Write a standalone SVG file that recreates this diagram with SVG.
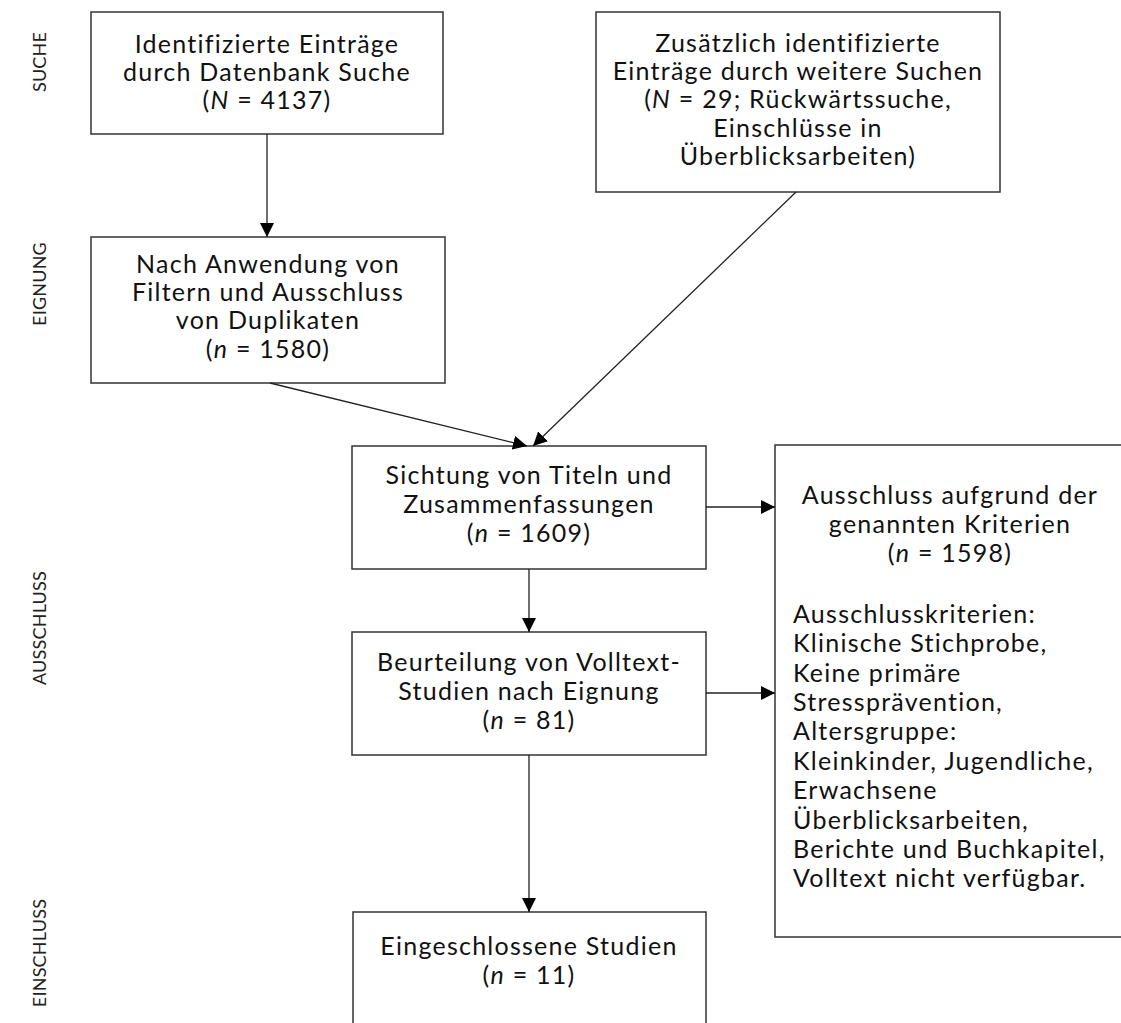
<svg xmlns="http://www.w3.org/2000/svg" width="1121" height="1023" viewBox="0 0 1121 1023">
<defs>
<style>
.box{fill:#fff;stroke:#333;stroke-width:1.5}
.t{font-family:Lato,"Open Sans",sans-serif;font-size:25px;letter-spacing:1.25px;fill:#111;text-anchor:middle}
.l{font-family:Lato,"Open Sans",sans-serif;font-size:25px;letter-spacing:1.25px;fill:#111;text-anchor:start}
.side{font-family:Lato,"Open Sans",sans-serif;font-size:18px;letter-spacing:0.2px;fill:#222;text-anchor:middle}
.c{stroke:#222;stroke-width:1.3;fill:none;marker-end:url(#ah)}
</style>
<marker id="ah" viewBox="0 0 14 14" refX="14" refY="7" markerWidth="14" markerHeight="14" markerUnits="userSpaceOnUse" orient="auto">
<path d="M0,0 L14,7 L0,14 z" fill="#000"/>
</marker>
</defs>
<rect width="1121" height="1023" fill="#fff"/>
<g id="phases">
<text class="side" transform="translate(46,62) rotate(-90)">SUCHE</text>
<text class="side" transform="translate(46,284) rotate(-90)">EIGNUNG</text>
<text class="side" transform="translate(46,628) rotate(-90)">AUSSCHLUSS</text>
<text class="side" transform="translate(46,953) rotate(-90)">EINSCHLUSS</text>
</g>
<g id="n1">
<rect class="box" x="91" y="12" width="352" height="122"/>
<text class="t" x="267" y="53">Identifizierte Einträge</text>
<text class="t" x="267" y="81">durch Datenbank Suche</text>
<text class="t" x="267" y="109">(<tspan font-style="italic">N</tspan> = 4137)</text>
</g>
<g id="n2">
<rect class="box" x="596" y="12" width="404" height="180"/>
<text class="t" x="798" y="52">Zusätzlich identifizierte</text>
<text class="t" x="798" y="80">Einträge durch weitere Suchen</text>
<text class="t" x="798" y="108">(<tspan font-style="italic">N</tspan> = 29; Rückwärtssuche,</text>
<text class="t" x="798" y="137">Einschlüsse in</text>
<text class="t" x="798" y="165">Überblicksarbeiten)</text>
</g>
<g id="n3">
<rect class="box" x="91" y="237" width="354" height="146"/>
<text class="t" x="268" y="273">Nach Anwendung von</text>
<text class="t" x="268" y="301">Filtern und Ausschluss</text>
<text class="t" x="268" y="329">von Duplikaten</text>
<text class="t" x="268" y="358">(<tspan font-style="italic">n</tspan> = 1580)</text>
</g>
<g id="n4">
<rect class="box" x="352" y="446" width="354" height="123"/>
<text class="t" x="529" y="484">Sichtung von Titeln und</text>
<text class="t" x="529" y="513">Zusammenfassungen</text>
<text class="t" x="529" y="542">(<tspan font-style="italic">n</tspan> = 1609)</text>
</g>
<g id="n5">
<rect class="box" x="352" y="632" width="354" height="123"/>
<text class="t" x="529" y="671">Beurteilung von Volltext-</text>
<text class="t" x="529" y="700">Studien nach Eignung</text>
<text class="t" x="529" y="729">(<tspan font-style="italic">n</tspan> = 81)</text>
</g>
<g id="n6">
<rect class="box" x="775" y="445" width="360" height="492"/>
<text class="t" x="950" y="504">Ausschluss aufgrund der</text>
<text class="t" x="950" y="533">genannten Kriterien</text>
<text class="t" x="950" y="562">(<tspan font-style="italic">n</tspan> = 1598)</text>
<text class="l" x="793" y="623">Ausschlusskriterien:</text>
<text class="l" x="793" y="652">Klinische Stichprobe,</text>
<text class="l" x="793" y="682">Keine primäre</text>
<text class="l" x="793" y="711">Stressprävention,</text>
<text class="l" x="793" y="740">Altersgruppe:</text>
<text class="l" x="793" y="770">Kleinkinder, Jugendliche,</text>
<text class="l" x="793" y="799">Erwachsene</text>
<text class="l" x="793" y="829">Überblicksarbeiten,</text>
<text class="l" x="793" y="858">Berichte und Buchkapitel,</text>
<text class="l" x="793" y="887">Volltext nicht verfügbar.</text>
</g>
<g id="n7">
<rect class="box" x="353" y="912" width="353" height="130"/>
<text class="t" x="529" y="955">Eingeschlossene Studien</text>
<text class="t" x="529" y="984">(<tspan font-style="italic">n</tspan> = 11)</text>
</g>
<g id="connectors">
<line class="c" x1="267" y1="134" x2="267" y2="237"/>
<line class="c" x1="270" y1="383" x2="527" y2="446"/>
<line class="c" x1="796" y1="192" x2="533" y2="446"/>
<line class="c" x1="529" y1="569" x2="529" y2="632"/>
<line class="c" x1="529" y1="755" x2="529" y2="912"/>
<line class="c" x1="706" y1="507" x2="775" y2="507"/>
<line class="c" x1="706" y1="693" x2="775" y2="693"/>
</g>
</svg>
